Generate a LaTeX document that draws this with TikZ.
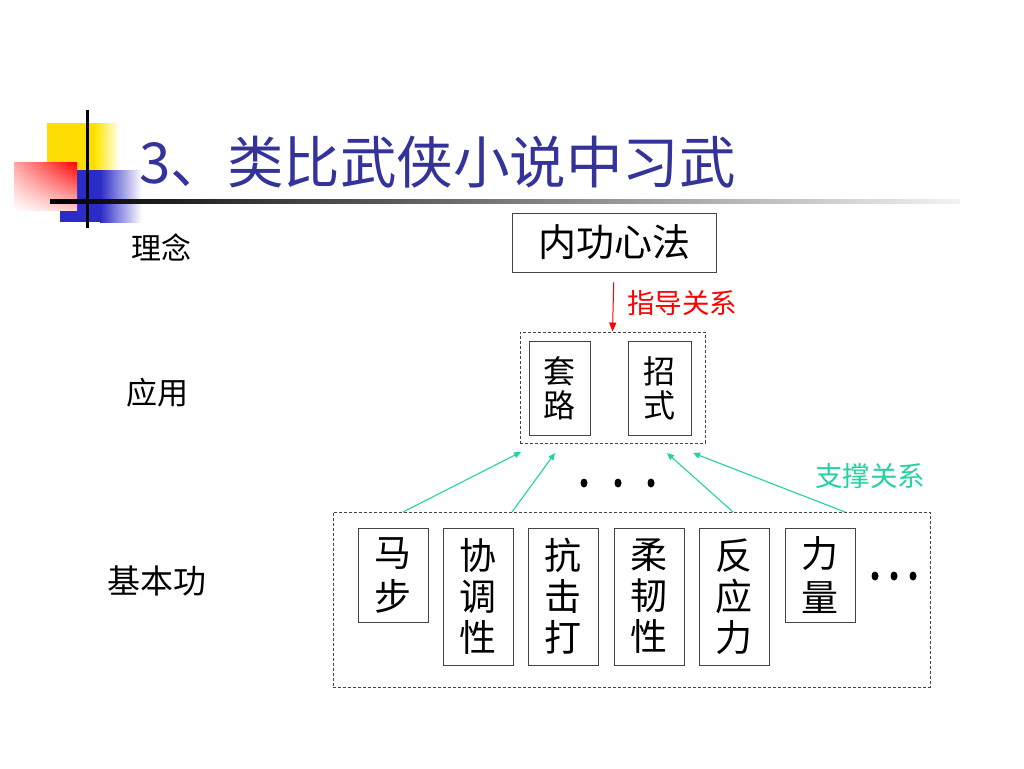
\documentclass[tikz,border=0pt]{standalone}
\usepackage{fontspec}
\setmainfont{Noto Sans CJK SC}
\usetikzlibrary{arrows.meta,shadings,shapes.geometric}
\definecolor{titleblue}{HTML}{333399}
\definecolor{tgreen}{HTML}{22D3A0}
\definecolor{dgray}{HTML}{444444}
\definecolor{dblue}{HTML}{2B2BC8}
\begin{document}
\begin{tikzpicture}[x=1pt,y=-1pt,
  fs/.style={font=\fontsize{#1}{#1}\selectfont},
  fsl/.style 2 args={font=\fontsize{#1}{#2}\selectfont},
  box/.style={draw=dgray,line width=0.9pt,inner sep=0pt,align=center},
  dbox/.style={draw=dgray,line width=0.9pt,dash pattern=on 3pt off 2pt},
  garrow/.style={draw=tgreen,line width=1.1pt,-{Triangle[length=7pt,width=6pt]}},
  dot/.style={fill=black,ellipse,inner sep=0pt,minimum width=7pt,minimum height=9pt}
]
\useasboundingbox (0,0) rectangle (1024,768);
% decoration
\fill[yellow!80!orange] (47,123) rectangle (95,170);
\shade[left color=yellow!80!orange,right color=white] (95,123) rectangle (120,170);
\fill[dblue] (60,170) rectangle (100,222);
\shade[left color=dblue,right color=white] (100,170) rectangle (142,222);
\shade[upper right=red,upper left=red!35,lower right=red!20,lower left=white] (14,162) rectangle (77,210);
\draw[black,line width=3pt] (87,110) -- (87,228);
\shade[left color=black,right color=black!5] (50,199) rectangle (960,203.5);
% title
\node[fs=56.5,text=titleblue,anchor=west,inner sep=0pt] (title) at (139,162) {3、类比武侠小说中习武};
% left labels
\node[fs=30] (l1) at (161,247) {理念};
\node[fs=31] (l2) at (157,393) {应用};
\node[fs=33] (l3) at (157,581) {基本功};
% top box
\node[box,fs=38,minimum width=204pt,minimum height=59pt] (nei) at (614,242.5) {内功心法};
% application group
\node[dbox,minimum width=185pt,minimum height=111pt] (app) at (612.5,387.5) {};
\node[box,fsl={32}{34},minimum width=61pt,minimum height=94pt] (tl) at (559.5,388) {套\\路};
\node[box,fsl={32}{34},minimum width=63pt,minimum height=94pt] (zs) at (659.5,388) {招\\式};
\draw[red,line width=1pt,-{Triangle[length=9pt,width=7pt]},shorten <=10pt] (nei.south) -- (app.north);
\node[fs=27.5,text=red,anchor=west,inner sep=0pt] (zd) at (627,303) {指导关系};
% bottom group
\node[dbox,minimum width=597pt,minimum height=175pt] (base) at (631.5,599.5) {};
\node[box,fsl={37}{44},minimum width=70pt,minimum height=94pt] (b1) at (393,575) {马\\步};
\node[box,fsl={37}{41},minimum width=70pt,minimum height=137pt] (b2) at (478,596.5) {协\\调\\性};
\node[box,fsl={37}{41},minimum width=70pt,minimum height=137pt] (b3) at (563,596.5) {抗\\击\\打};
\node[box,fsl={37}{41},minimum width=70pt,minimum height=137pt] (b4) at (649,596.5) {柔\\韧\\性};
\node[box,fsl={37}{41},minimum width=70pt,minimum height=137pt] (b5) at (734,596.5) {反\\应\\力};
\node[box,fsl={37}{44},minimum width=70pt,minimum height=94pt] (b6) at (820,575) {力\\量};
\node[dot,minimum width=7pt,minimum height=9pt] (e1) at (875,576) {};
\node[dot,minimum width=7pt,minimum height=9pt] (e2) at (894,576) {};
\node[dot,minimum width=7pt,minimum height=9pt] (e3) at (913,576) {};
% middle dots
\node[dot] (d1) at (584,483) {};
\node[dot] (d2) at (618,483) {};
\node[dot] (d3) at (651,483) {};
% support arrows
\coordinate (s1) at (403,512);
\coordinate (s2) at (512,512);
\coordinate (s3) at (733,512);
\coordinate (s4) at (845,512);
\coordinate (t1) at (521,452);
\coordinate (t2) at (555,453);
\coordinate (t3) at (667,453);
\coordinate (t4) at (693,453);
\draw[garrow] (s1) -- (t1);
\draw[garrow] (s2) -- (t2);
\draw[garrow] (s3) -- (t3);
\draw[garrow] (s4) -- (t4);
\node[fs=27.5,text=tgreen,anchor=west,inner sep=0pt] (zc) at (815,476) {支撑关系};
\end{tikzpicture}
\end{document}
